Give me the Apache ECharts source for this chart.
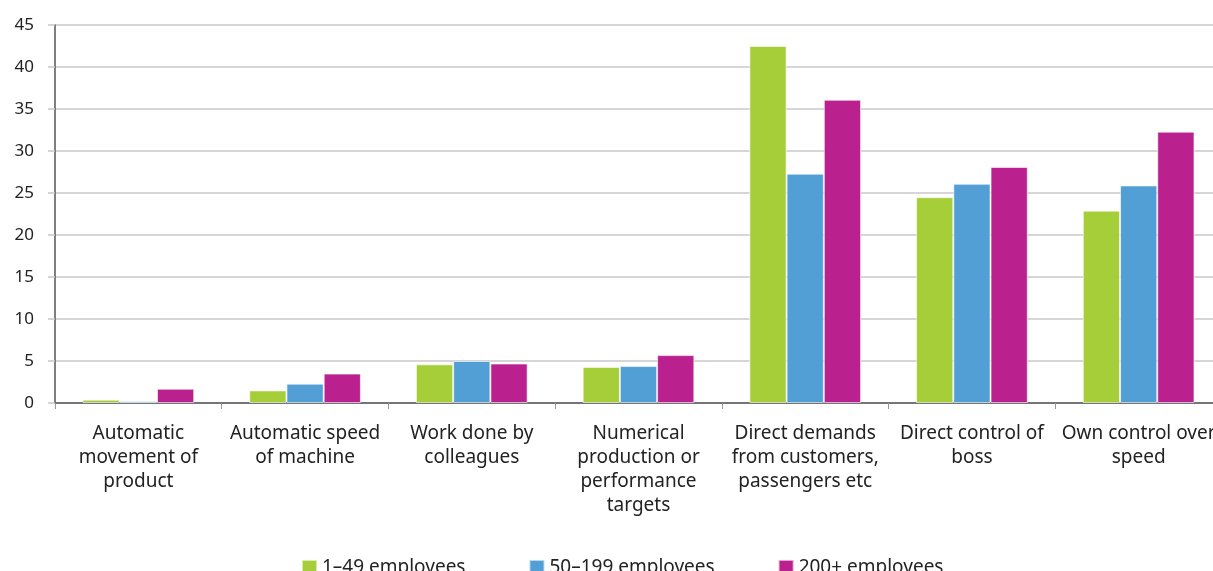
<!DOCTYPE html>
<html>
<head>
<meta charset="utf-8">
<script src="https://cdn.jsdelivr.net/npm/echarts@6/dist/echarts.min.js"></script>
<style>
  html, body { margin: 0; padding: 0; background: #fff; overflow: hidden; }
  /* the original plot runs past the right edge of the picture */
  #chart { width: 1222px; height: 571px; }
</style>
</head>
<body>
<div id="chart"></div>
<script>
// categories (line breaks as in the original)
const categories = [
  'Automatic\nmovement of\nproduct',
  'Automatic speed\nof machine',
  'Work done by\ncolleagues',
  'Numerical\nproduction or\nperformance\ntargets',
  'Direct demands\nfrom customers,\npassengers etc',
  'Direct control of\nboss',
  'Own control over\nspeed'
];
const seriesNames = ['1–49 employees', '50–199 employees', '200+ employees'];
const small = [0.4, 1.5, 4.6, 4.3, 42.5, 24.5, 22.9];
const medium = [0.2, 2.3, 5.0, 4.4, 27.3, 26.1, 25.9];
const large = [1.7, 3.5, 4.7, 5.7, 36.1, 28.1, 32.3];
const colors = ['#A6CE39', '#529FD6', '#BA218F'];

const chart = echarts.init(document.getElementById('chart'));
const font = '"Noto Sans", sans-serif';

function bar(name, data, color) {
  return {
    name,
    type: 'bar',
    data,
    barGap: '0%',
    barCategoryGap: '33%',
    itemStyle: { color, borderColor: 'rgba(255,255,255,0.6)', borderWidth: 1 }
  };
}

chart.setOption({
  animation: false,
  color: colors,
  grid: { left: 55, right: 0, top: 25, bottom: 168 },
  legend: {
    top: 553,
    left: 296,
    itemWidth: 15,
    itemHeight: 15,
    itemGap: 63,
    icon: 'rect',
    textStyle: { fontFamily: font, fontSize: 19, color: '#222' },
    data: seriesNames
  },
  xAxis: {
    type: 'category',
    data: categories,
    axisLine: { lineStyle: { color: '#555', width: 1.5 } },
    axisTick: { show: true, length: 6, lineStyle: { color: '#999' } },
    axisLabel: {
      interval: 0,
      margin: 19,
      fontFamily: font,
      fontSize: 19,
      lineHeight: 24,
      color: '#222'
    }
  },
  yAxis: {
    type: 'value',
    min: 0,
    max: 45,
    interval: 5,
    axisLine: { show: true, lineStyle: { color: '#555', width: 1.5 } },
    axisTick: { show: true, length: 7, lineStyle: { color: '#c8c8c8', width: 1.5 } },
    axisLabel: { fontFamily: font, fontSize: 17, color: '#222', margin: 21 },
    splitLine: { lineStyle: { color: '#c8c8c8', width: 1.5 } }
  },
  series: [
    bar(seriesNames[0], small, colors[0]),
    bar(seriesNames[1], medium, colors[1]),
    bar(seriesNames[2], large, colors[2])
  ]
});
</script>
</body>
</html>
